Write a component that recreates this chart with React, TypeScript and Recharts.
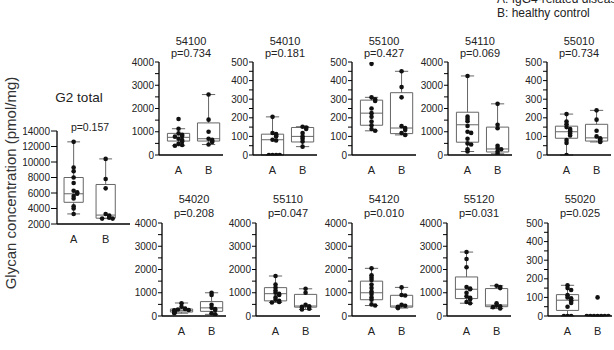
import { ComposedChart, ReferenceArea, ReferenceLine, Scatter, XAxis, YAxis } from "recharts";

const FONT = '"Liberation Sans", Arial, Helvetica, sans-serif';
const INK = "#222";
const BOX_STROKE = "#666";

const GROUPS = ["A", "B"];
const LEGEND = ["A: IgG4-related disease", "B: healthy control"];
const Y_LABEL = "Glycan concentration (pmol/mg)";

const TICKS_G2 = [2000, 4000, 6000, 8000, 10000, 12000, 14000];
const TICKS_4000 = [0, 500, 1000, 1500, 2000, 2500, 3000, 3500, 4000];
const TICKS_500 = [0, 50, 100, 150, 200, 250, 300, 350, 400, 450, 500];

// dots per group; boxes are [low whisker, Q1, median, Q3, high whisker]
const G2_A = [12600, 9300, 8800, 8000, 7300, 6300, 6100, 5900, 5600, 5300, 4300, 4000, 3300];
const G2_B = [10400, 7800, 6600, 3300, 3100, 2900, 2800, 2700, 2700];
const G2_BOX_A = [3300, 4800, 5900, 8000, 12600];
const G2_BOX_B = [2700, 2750, 3150, 7100, 10400];

const P54100_A = [1550, 1130, 930, 870, 820, 790, 700, 640, 580, 480, 430, 400];
const P54100_B = [2600, 1520, 1000, 700, 650, 600, 560, 450];
const P54100_BOX_A = [400, 600, 760, 930, 1130];
const P54100_BOX_B = [450, 600, 700, 1380, 2600];

const P54010_A = [205, 118, 112, 104, 100, 82, 78, 0, 0, 0, 0];
const P54010_B = [152, 148, 140, 118, 100, 88, 72, 45];
const P54010_BOX_A = [0, 0, 82, 112, 205];
const P54010_BOX_B = [45, 70, 100, 148, 152];

const P55100_A = [490, 310, 300, 290, 250, 225, 205, 180, 160, 140, 130];
const P55100_B = [450, 365, 310, 155, 145, 135, 118, 108];
const P55100_BOX_A = [130, 160, 225, 295, 310];
const P55100_BOX_B = [108, 115, 145, 335, 450];

const P54110_A = [3400, 1650, 1550, 1450, 1250, 1000, 950, 700, 500, 450, 250, 150];
const P54110_B = [2200, 1300, 1150, 400, 300, 250, 150, 50];
const P54110_BOX_A = [150, 550, 1300, 1840, 3400];
const P54110_BOX_B = [50, 130, 260, 1200, 2200];

const P55010_A = [220, 180, 165, 150, 140, 130, 125, 115, 105, 80, 65, 0];
const P55010_B = [240, 190, 130, 100, 90, 85, 75, 70];
const P55010_BOX_A = [0, 90, 125, 155, 220];
const P55010_BOX_B = [70, 75, 92, 165, 240];

const P54020_A = [550, 400, 320, 300, 280, 260, 240, 220, 200, 180, 160, 150, 120];
const P54020_B = [1000, 900, 480, 350, 300, 260, 120, 70];
const P54020_BOX_A = [120, 170, 230, 300, 560];
const P54020_BOX_B = [70, 200, 350, 620, 1000];

const P55110_A = [1720, 1350, 1220, 1100, 1000, 950, 900, 800, 700, 650, 600, 580];
const P55110_B = [1170, 1000, 480, 420, 400, 350, 310, 280];
const P55110_BOX_A = [580, 650, 960, 1220, 1720];
const P55110_BOX_B = [280, 380, 430, 930, 1170];

const P54120_A = [2050, 1750, 1650, 1550, 1350, 1200, 1050, 950, 800, 700, 500, 450];
const P54120_B = [1230, 900, 880, 480, 440, 400, 370, 340];
const P54120_BOX_A = [450, 700, 1000, 1500, 2050];
const P54120_BOX_B = [340, 380, 430, 890, 1230];

const P55120_A = [2750, 2450, 2100, 1250, 1180, 1150, 1000, 850, 780, 720, 600, 550];
const P55120_B = [1300, 1250, 1200, 550, 450, 420, 380, 320];
const P55120_BOX_A = [550, 750, 1150, 1680, 2750];
const P55120_BOX_B = [320, 400, 470, 1180, 1300];

const P55020_A = [165, 150, 140, 112, 100, 95, 85, 80, 70, 50, 0, 0, 0];
const P55020_B = [100, 0, 0, 0, 0, 0, 0, 0];
const P55020_BOX_A = [0, 30, 85, 115, 165];
const P55020_BOX_B = [0, 0, 0, 0, 0];

type Panel = {
  title: string;
  p: string;
  a: number[];
  b: number[];
  boxA: number[];
  boxB: number[];
  ticks: number[];
  labelEvery: number;
};

const TOP_ROW: Panel[] = [
  { title: "54100", p: "0.734", a: P54100_A, b: P54100_B, boxA: P54100_BOX_A, boxB: P54100_BOX_B, ticks: TICKS_4000, labelEvery: 1000 },
  { title: "54010", p: "0.181", a: P54010_A, b: P54010_B, boxA: P54010_BOX_A, boxB: P54010_BOX_B, ticks: TICKS_500, labelEvery: 100 },
  { title: "55100", p: "0.427", a: P55100_A, b: P55100_B, boxA: P55100_BOX_A, boxB: P55100_BOX_B, ticks: TICKS_500, labelEvery: 100 },
  { title: "54110", p: "0.069", a: P54110_A, b: P54110_B, boxA: P54110_BOX_A, boxB: P54110_BOX_B, ticks: TICKS_4000, labelEvery: 1000 },
  { title: "55010", p: "0.734", a: P55010_A, b: P55010_B, boxA: P55010_BOX_A, boxB: P55010_BOX_B, ticks: TICKS_500, labelEvery: 100 },
];

const BOTTOM_ROW: Panel[] = [
  { title: "54020", p: "0.208", a: P54020_A, b: P54020_B, boxA: P54020_BOX_A, boxB: P54020_BOX_B, ticks: TICKS_4000, labelEvery: 1000 },
  { title: "55110", p: "0.047", a: P55110_A, b: P55110_B, boxA: P55110_BOX_A, boxB: P55110_BOX_B, ticks: TICKS_4000, labelEvery: 1000 },
  { title: "54120", p: "0.010", a: P54120_A, b: P54120_B, boxA: P54120_BOX_A, boxB: P54120_BOX_B, ticks: TICKS_4000, labelEvery: 1000 },
  { title: "55120", p: "0.031", a: P55120_A, b: P55120_B, boxA: P55120_BOX_A, boxB: P55120_BOX_B, ticks: TICKS_4000, labelEvery: 1000 },
  { title: "55020", p: "0.025", a: P55020_A, b: P55020_B, boxA: P55020_BOX_A, boxB: P55020_BOX_B, ticks: TICKS_500, labelEvery: 100 },
];

const G2_PANEL: Panel = {
  title: "G2 total", p: "0.157", a: G2_A, b: G2_B, boxA: G2_BOX_A, boxB: G2_BOX_B, ticks: TICKS_G2, labelEvery: 2000,
};

// layout
const Y_W = 34;
const PAD_TOP = 8;
const X_H = 26;
const PLOT_H = 93;
const TOP_AXES = [159, 253, 352, 448, 547];
const BOTTOM_AXES = [162, 256, 352, 447, 548];
const TOP_ZERO = 155;
const BOTTOM_ZERO = 316;

type Geometry = {
  axisX: number;
  zeroY: number;
  plotW: number;
  xDomain: [number, number];
  boxHalf: number;
  capHalf: number;
  step: number;
  tickSize: number;
};

const SMALL: Omit<Geometry, "axisX" | "zeroY"> = {
  plotW: 64, xDomain: [0.35, 2.48], boxHalf: 0.37, capHalf: 0.22, step: 0.12, tickSize: 4,
};

// spread dots sideways when values crowd together
function swarm(values: number[], group: number, span: number, step: number) {
  const placed: number[] = [];
  return values.map((v) => {
    const n = placed.filter((u) => Math.abs(u - v) < span * 0.022).length;
    placed.push(v);
    const k = Math.ceil(n / 2) * (n % 2 === 1 ? 1 : -1);
    return { x: group + k * step, y: v };
  });
}

function boxMarks(g: number, box: number[], half: number, cap: number, key: string) {
  const [lo, q1, med, q3, hi] = box;
  const line = { stroke: BOX_STROKE, strokeWidth: 1, ifOverflow: "visible" as const };
  return [
    <ReferenceArea key={key + "box"} x1={g - half} x2={g + half} y1={q1} y2={q3} fill="none" stroke={BOX_STROKE} strokeWidth={1} ifOverflow="visible" />,
    <ReferenceLine key={key + "med"} segment={[{ x: g - half, y: med }, { x: g + half, y: med }]} {...line} />,
    <ReferenceLine key={key + "up"} segment={[{ x: g, y: q3 }, { x: g, y: hi }]} {...line} />,
    <ReferenceLine key={key + "upcap"} segment={[{ x: g - cap, y: hi }, { x: g + cap, y: hi }]} {...line} />,
    <ReferenceLine key={key + "dn"} segment={[{ x: g, y: lo }, { x: g, y: q1 }]} {...line} />,
    <ReferenceLine key={key + "dncap"} segment={[{ x: g - cap, y: lo }, { x: g + cap, y: lo }]} {...line} />,
  ];
}

function YTick(props: any) {
  const { x, y, payload, labelEvery } = props;
  if (payload.value % labelEvery !== 0) return null;
  return (
    <text x={x} y={y} dy={3.6} textAnchor="end" fontSize={10} fill={INK}>
      {payload.value}
    </text>
  );
}

function BoxPanel({ panel, geo }: { panel: Panel; geo: Geometry }) {
  const yMin = panel.ticks[0];
  const yMax = panel.ticks[panel.ticks.length - 1];
  const span = yMax - yMin;
  const dots = [...swarm(panel.a, 1, span, geo.step), ...swarm(panel.b, 2, span, geo.step)];
  return (
    <div style={{ position: "absolute", left: geo.axisX - Y_W, top: geo.zeroY - PLOT_H - PAD_TOP }}>
      <ComposedChart
        width={Y_W + geo.plotW}
        height={PAD_TOP + PLOT_H + X_H}
        margin={{ top: PAD_TOP, right: 0, bottom: 0, left: 0 }}
      >
        <XAxis
          type="number"
          dataKey="x"
          domain={geo.xDomain}
          allowDataOverflow
          ticks={[1, 2]}
          interval={0}
          tickFormatter={(v: number) => GROUPS[v - 1]}
          tickLine={false}
          tickSize={0}
          tickMargin={11}
          height={X_H}
          axisLine={{ stroke: "#000", strokeWidth: 1.3 }}
          tick={{ fontSize: 11, fill: INK }}
        />
        <YAxis
          type="number"
          dataKey="y"
          domain={[yMin, yMax]}
          allowDataOverflow
          ticks={panel.ticks}
          interval={0}
          width={Y_W}
          tickSize={geo.tickSize}
          tickMargin={1}
          axisLine={{ stroke: "#000", strokeWidth: 1.3 }}
          tickLine={{ stroke: "#000", strokeWidth: 1 }}
          tick={(p: any) => <YTick {...p} labelEvery={panel.labelEvery} />}
        />
        {boxMarks(1, panel.boxA, geo.boxHalf, geo.capHalf, "a")}
        {boxMarks(2, panel.boxB, geo.boxHalf, geo.capHalf, "b")}
        <Scatter
          data={dots}
          isAnimationActive={false}
          shape={(p: any) => <circle cx={p.cx} cy={p.cy} r={2.3} fill="#111" />}
        />
      </ComposedChart>
    </div>
  );
}

export default function App() {
  const g2Geo: Geometry = {
    axisX: 57, zeroY: 224, plotW: 73, xDomain: [0.48, 2.76], boxHalf: 0.3, capHalf: 0.2, step: 0.11, tickSize: 6,
  };
  return (
    <div style={{ position: "absolute", left: 0, top: 0, width: 614, height: 350, background: "#fff", fontFamily: FONT, overflow: "hidden" }}>
      <svg width={614} height={350} style={{ position: "absolute", left: 0, top: 0 }} fontFamily={FONT}>
        <text x={497} y={3} fontSize={12} fill={INK}>{LEGEND[0]}</text>
        <text x={497} y={17} fontSize={12} fill={INK}>{LEGEND[1]}</text>
        <text transform="translate(16 183) rotate(-90)" textAnchor="middle" fontSize={15} fill="#333">
          {Y_LABEL}
        </text>
        <text x={79} y={102} textAnchor="middle" fontSize={13.5} fill={INK}>{G2_PANEL.title}</text>
        <text x={90} y={131} textAnchor="middle" fontSize={10.5} fill={INK}>{"p=" + G2_PANEL.p}</text>
        {TOP_ROW.map((panel, i) => (
          <g key={panel.title}>
            <text x={TOP_AXES[i] + 32} y={45} textAnchor="middle" fontSize={11} fill={INK}>{panel.title}</text>
            <text x={TOP_AXES[i] + 32} y={57} textAnchor="middle" fontSize={11} fill={INK}>{"p=" + panel.p}</text>
          </g>
        ))}
        {BOTTOM_ROW.map((panel, i) => (
          <g key={panel.title}>
            <text x={BOTTOM_AXES[i] + 32} y={203} textAnchor="middle" fontSize={11} fill={INK}>{panel.title}</text>
            <text x={BOTTOM_AXES[i] + 32} y={217} textAnchor="middle" fontSize={11} fill={INK}>{"p=" + panel.p}</text>
          </g>
        ))}
      </svg>
      <BoxPanel panel={G2_PANEL} geo={g2Geo} />
      {TOP_ROW.map((panel, i) => (
        <BoxPanel key={panel.title} panel={panel} geo={{ ...SMALL, axisX: TOP_AXES[i], zeroY: TOP_ZERO }} />
      ))}
      {BOTTOM_ROW.map((panel, i) => (
        <BoxPanel key={panel.title} panel={panel} geo={{ ...SMALL, axisX: BOTTOM_AXES[i], zeroY: BOTTOM_ZERO }} />
      ))}
    </div>
  );
}
